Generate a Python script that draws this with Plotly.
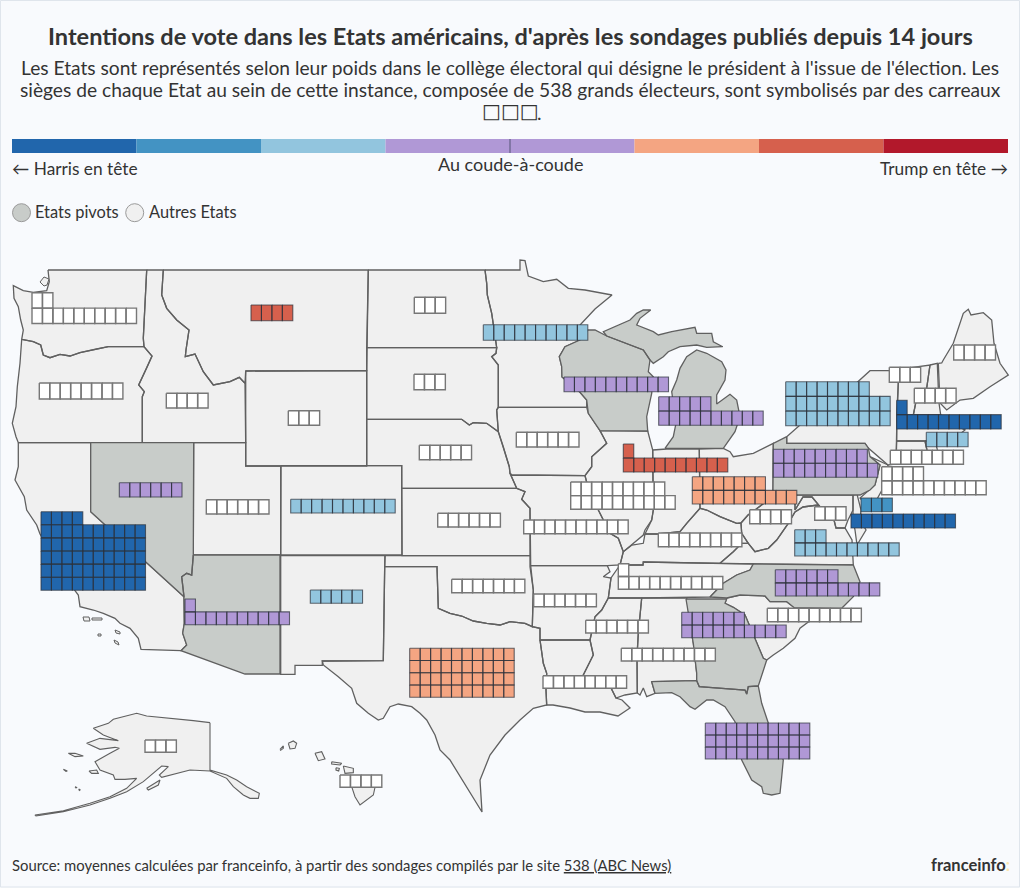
import plotly.graph_objects as go

# ---------- text ----------
TITLE = "Intentions de vote dans les Etats américains, d'après les sondages publiés depuis 14 jours"
SUBTITLE = ["Les Etats sont représentés selon leur poids dans le collège électoral qui désigne le président à l'issue de l'élection. Les",
            "sièges de chaque Etat au sein de cette instance, composée de 538 grands électeurs, sont symbolisés par des carreaux"]
BOXES = "□□□"
LEFT_LABEL = "← Harris en tête"
MID_LABEL = "Au coude-à-coude"
RIGHT_LABEL = "Trump en tête →"
SWATCH_LABELS = ["Etats pivots", "Autres Etats"]
SOURCE = "Source: moyennes calculées par franceinfo, à partir des sondages compilés par le site <u>538 (ABC News)</u>"
BG = "#f8fafd"
FONT = "Lato"
INK = "#333333"

# ---------- colour scale ----------
LEAD_COLORS = ["#2166ac", "#4393c3", "#92c5de", "#b098d6", "#b098d6", "#f4a582", "#d6604d", "#b2182b"]
WHITE, DB, MB, LB, PU, OR, RD = "#ffffff", "#2166ac", "#4393c3", "#92c5de", "#b098d6", "#f4a582", "#d6604d"

# ---------- electoral seats ----------
STATE = ["WA","OR","MT","ID","WY","ND","SD","NE","MN","IA","WI","MI","IN","IL","OH","PA","NY","MA","VT","NH","ME","RI","CT","NJ","DE","MD","DC","WV","VA","KY","TN","MO","AR","MS","AL","LA","GA","NC","SC","FL","TX","OK","KS","CO","NM","AZ","NV","UT","CA","AK","HI"]
SEATS = [12,8,4,4,3,3,3,5,10,6,10,15,11,19,17,19,28,11,3,4,4,4,7,14,3,10,3,4,13,8,11,10,6,6,9,8,16,16,9,30,40,7,6,10,5,11,6,6,54,3,4]
LEAD = [WHITE,WHITE,RD,WHITE,WHITE,WHITE,WHITE,WHITE,LB,WHITE,PU,PU,RD,WHITE,OR,PU,LB,DB,WHITE,WHITE,WHITE,LB,WHITE,WHITE,MB,DB,WHITE,WHITE,LB,WHITE,WHITE,WHITE,WHITE,WHITE,WHITE,WHITE,PU,PU,WHITE,PU,OR,WHITE,WHITE,LB,LB,PU,PU,WHITE,DB,WHITE,WHITE]
TILE_LEFT = [32,39.3,251,166.3,288.3,414.3,414,419.3,483.3,516.3,564,658.7,623.3,570.7,692.3,773.3,785.7,896.7,889.3,914.3,953.7,926.3,890.3,881.7,861,851,814.7,749.7,794.7,658.3,618.3,523.7,533.7,585.7,621.3,543,681.7,775.3,767.3,705.3,409.7,451.7,437.7,290.7,310.3,185,119.3,206.3,41,145,340]
TILE_TOP = [292.7,383,305,393.3,410.7,297.3,374.3,445.3,324.7,432.3,377,396.7,444,482,476.7,449.3,381.7,400.3,367.3,388.3,345,432.3,450.3,466.7,498,514,506.7,509.7,529.7,533,563.7,520,594,620.3,648.3,675.7,612.3,569.7,608.3,723,648.3,579.3,513.3,499.3,590,599,482.7,499.7,511.7,740,775]
TILE_BOTTOM = [323.5,399,320.7,408,425.3,313.3,389.7,459.7,340.3,447,391.7,425.3,472,509.3,504,477.3,425.7,429,382.3,403,360,446.7,464.3,494.7,511.7,528,520.3,523.7,556,546.7,589.3,533.7,606.7,633,661,688.3,637.7,596,621.7,759,697.3,592.7,527,513,603.3,624.7,497,514,590.3,752.3,787.3]
CELL_WIDTH = 10.45

# ---------- map outlines (map coordinates) ----------
WA = [(48,270),(146.7,270),(143.3,338.3),(144,346.7),(108.3,346.7),(96.7,349),(80,352.7),(70,356),(60,354.3),(50,357.7),(43.3,355),(40.7,345),(33.3,341.7),(21.7,339.3),(23.3,330),(20.7,320),(18.3,306.7),(14,298.3),(13.3,285.7),(23.3,290.7),(33.3,292.3),(46.7,290.7),(49.3,281.7)]
OR_ = [(21.7,339.3),(33.3,341.7),(40.7,345),(43.3,355),(50,357.7),(60,354.3),(70,356),(80,352.7),(96.7,349),(108.3,346.7),(144,346.7),(152,356),(146.7,368),(141.7,378.3),(138.7,385),(144.3,391.7),(142.3,396.7),(142.3,442.7),(18.3,442.7),(16,436.7),(12.3,423.3),(16,406.7),(17.3,386.7),(20,363.3)]
ID = [(146.7,270),(163.3,270),(161.7,295),(166.7,308.3),(176.7,320),(189,330),(186,350),(185.3,356.7),(195,354),(203.3,371.7),(213.3,385),(230,381.7),(239.3,377.3),(245,383.3),(245.7,442.7),(142.3,442.7),(142.3,396.7),(144.3,391.7),(138.7,385),(141.7,378.3),(146.7,368),(152,356),(144,346.7),(143.3,338.3)]
MT = [(163.3,270),(368.3,270),(366.7,370.7),(245.7,371),(245,383.3),(239.3,377.3),(230,381.7),(213.3,385),(203.3,371.7),(195,354),(185.3,356.7),(186,350),(189,330),(176.7,320),(166.7,308.3),(161.7,295)]
WY = [(245.7,371),(366.7,370.7),(366.7,466),(245.7,466)]
ND = [(368.3,270),(485,270),(486.7,283.3),(487.3,295),(491.7,313.3),(496.7,347.7),(366.7,347.7)]
SD = [(366.7,347.7),(496.7,347.7),(496,353.3),(491.7,356.7),(498.3,365),(498.3,407.3),(496.7,410),(498.3,431.7),(486.7,423.3),(473.3,422.7),(469.3,425),(461.7,419.3),(366.7,419.3)]
NE = [(366.7,419.3),(461.7,419.3),(469.3,425),(473.3,422.7),(486.7,423.3),(498.3,431.7),(503.3,446.7),(509.3,466.7),(510,473.3),(516.7,488.3),(401.7,488.3),(401.7,465.7),(366.7,465.7)]
CO = [(281,465.7),(401.7,465.7),(402,555),(280.7,555)]
KS = [(401.7,488.3),(516.7,488.3),(525,491.7),(521.7,499.3),(530,508.3),(530,555.7),(402,555.7)]
OK = [(385,555.7),(530,555.7),(530,566.7),(533.3,590),(532.3,626.7),(525,623.3),(510,621.7),(500,625),(486.7,623.3),(473.3,621),(461.7,616),(450,613.3),(438.3,608.3),(437,566.7),(384.7,566.7)]
NM = [(280.7,555.7),(385,555.7),(384.7,566.7),(383.3,660.7),(322.3,661),(322.3,665.3),(295,665.3),(295,674.3),(280.7,674.3)]
AZ = [(193.3,555),(280,555),(280,674),(245,674),(181,650.7),(186.7,645),(182.7,633.3),(184.3,623.3),(184,596.7),(181.7,576.7),(186.7,573.3),(191.7,575)]
NV = [(90.7,442.7),(193.7,442.7),(193.3,555),(191.7,575),(186.7,573.3),(181.7,576.7),(184,596.7),(145.7,561.7),(90.7,511.7)]
CA = [(18.3,442.7),(90.7,442.7),(90.7,511.7),(145.7,561.7),(184,596.7),(184.3,623.3),(182.7,633.3),(186.7,645),(181,650.7),(141,649.3),(138.3,638.3),(130,628.3),(120,623.3),(115,618.3),(103.3,613.3),(93.3,610),(80,606.7),(78.3,595),(75,590.7),(40,534),(36.7,525),(26.7,510),(24.3,496.7),(15,480),(18.3,466.7)]
UT = [(193.7,442.7),(245.7,442.7),(245.7,466),(280.7,466),(280.7,555),(193.3,555)]
MN = [(485,270),(520,270),(520,260),(525,260.7),(528.3,276),(543.3,281.7),(556.7,279.3),(568.3,288.3),(585,290),(612,295),(595,309),(580,325),(580,340),(565,346.7),(559.3,356.7),(561.7,366.7),(562,377),(580,392.3),(586.7,400),(586.7,407.3),(498.3,407.3),(498.3,365),(491.7,356.7),(496,353.3),(496.7,347.7),(491.7,313.3),(487.3,295),(486.7,283.3)]
IA = [(498.3,407.3),(586.7,407.3),(588.3,413.3),(600,430.7),(606.7,443.3),(591.7,456.7),(591.7,466.7),(585,475.7),(511.7,475),(510,473.3),(509.3,466.7),(503.3,446.7),(498.3,431.7),(496.7,410)]
WI = [(580,340),(587.7,330),(595,330),(606.7,336),(643.3,350),(650,360),(648.3,371.7),(653.3,376.7),(651.7,393.3),(646.7,416.7),(647.7,431),(600,430.7),(588.3,413.3),(586.7,400),(580,392.3),(562,377),(561.7,366.7),(559.3,356.7),(565,346.7)]
MI_UP = [(606.7,336),(603.3,331.7),(630,320),(636.7,313.3),(643.3,310),(650.7,310),(640,318.3),(636.7,325),(653.3,331.7),(658.3,335),(671.7,331.7),(695,327.3),(696.7,333.3),(711.7,333.3),(713.3,341.7),(722.7,346.7),(706.7,347.3),(696.7,345),(680,346.7),(668.3,351.7),(663.3,356.7),(653.3,363.3),(650,360),(643.3,350)]
MI_LP = [(665,448.3),(673.3,436.7),(676,423.3),(671.7,391.7),(676.7,380),(680,368.3),(686.7,356.7),(696.7,350),(706.7,353.3),(721.7,361.7),(726,370),(725,380),(716.7,395),(716.7,404),(730,394.3),(736.7,400),(740,416.7),(735,431.7),(723.3,448.3)]
IL = [(600,430.7),(647.7,431),(652.7,450),(653.3,510),(651.7,520),(645,530),(643.3,535),(632,545),(623.3,551.7),(618.3,538.3),(610,533.3),(598.3,510),(590,495),(585,475.7),(591.7,466.7),(591.7,456.7),(606.7,443.3)]
IN = [(652.7,450),(666.7,449),(699.3,449),(699.3,500),(700,508.3),(686.7,523.3),(680,531.7),(658.3,534),(645,534),(651.7,520),(653.3,510)]
OH = [(699.3,449),(723.3,448.3),(730,451.7),(733.3,456.7),(753.3,453.3),(773.3,443.3),(773,490),(768,500),(755,510),(748,515),(741,523),(736.7,523.3),(720,516.7),(706.7,510),(700,508.3)]
KY = [(623.3,551.7),(632,545),(643.3,543.3),(645,534),(658.3,534),(680,531.7),(686.7,523.3),(700,508.3),(706.7,510),(720,516.7),(736.7,523.3),(741,523),(741.7,533.3),(748.3,543.3),(741.7,543.3),(733.3,551.7),(720,563.3),(643.3,562),(643,565),(620,565)]
TN = [(620,565),(643,565),(643.3,562),(720,563.3),(753.3,564),(750,570),(736.7,575),(723.3,583.3),(710,597),(641.7,598),(608.3,598),(611,578)]
MO = [(511.7,475),(585,475.7),(590,495),(598.3,510),(610,533.3),(618.3,538.3),(623.3,551.7),(620,565),(607.3,565.7),(530.7,565.7),(530,508.3),(521.7,499.3),(525,491.7),(516.7,488.3),(510,473.3)]
AR = [(530.7,565.7),(607.3,565.7),(610,571.7),(603.3,576.7),(611,578),(608.3,598),(601.7,610),(595,616.7),(590,640),(540,640),(540,628.3),(532.3,626.7),(533.3,590)]
LA = [(540,640),(590,640),(593.3,655),(583.3,675),(583,688),(611,688),(616,698),(622,700),(630,708),(618,716),(600,712),(585,712),(570,708),(553,705),(546.7,705),(546,690),(546.7,673.3),(543.3,663.3)]
MS = [(608.3,598),(641.7,598),(638.3,633.3),(637,656.7),(637.3,693),(625,695),(616,698),(611,688),(583,688),(583.3,675),(593.3,655),(590,640),(595,616.7),(601.7,610)]
AL = [(641.7,598),(686.7,598),(693.3,643.3),(696.7,673.3),(696.7,680.7),(651.7,681.7),(655,693.3),(646.7,696.7),(643.3,688),(640,695),(637.3,693),(637,656.7),(638.3,633.3)]
TX = [(384.7,566.7),(437,566.7),(438.3,608.3),(450,613.3),(461.7,616),(473.3,621),(486.7,623.3),(500,625),(510,621.7),(525,623.3),(532.3,626.7),(540,628.3),(540,640),(543.3,663.3),(546.7,673.3),(546,690),(546.7,705),(533.3,708.3),(520,720),(505,735),(490,755),(480,780),(482,812),(465,785),(450,760),(440,750),(435,735),(426.7,720),(420,713.3),(411.7,706.7),(398.3,704),(390,706.7),(383.3,718.3),(378.3,720),(368.3,713.3),(356.7,703.3),(351.7,688.3),(338.3,676.7),(323.3,665),(322.3,661),(383.3,660.7)]
FL = [(651.7,681.7),(696.7,680.7),(699.3,686.7),(745,690),(746.7,694),(748.3,686.7),(758.3,686),(761.7,703.3),(768.3,723),(783.3,760),(781.7,776.7),(780,793.3),(771.7,795),(763.3,793.3),(761.7,786.7),(751.7,780),(741.7,760),(735,721.7),(725,706.7),(713.3,700),(706.7,700),(695,709.3),(690,706.7),(680,696.7),(671.7,692.7),(655,693.3)]
GA = [(686,599),(726.7,599),(725,603.3),(733.3,607.3),(745,615),(755,638.3),(763.3,658.3),(766.7,660),(763.3,670),(758.3,686),(748.3,686.7),(746.7,694),(745,690),(699.3,686.7),(696.7,680.7),(696.7,673.3),(693.3,643.3)]
SC = [(726.7,598),(740,595),(765,596),(770,601.7),(786.7,601.7),(794.3,607.7),(826.7,608.3),(808.3,621.7),(800,628.3),(795,638.3),(783.3,648.3),(773.3,655),(766.7,660),(763.3,658.3),(755,638.3),(745,615),(733.3,607.3),(725,603.3)]
NC = [(753.3,564),(853.3,565),(860,581.7),(853.3,596.7),(841.7,608.3),(826.7,608.3),(794.3,607.7),(786.7,601.7),(770,601.7),(765,596),(740,595),(726.7,598),(710,597),(723.3,583.3),(736.7,575),(750,570)]
VA = [(720,563.3),(733.3,551.7),(741.7,543.3),(748.3,543.3),(755,551.7),(768.3,548.3),(776.7,540),(788.3,523.3),(795,512),(803,507),(818,505),(820,506.7),(833,516),(836,528),(845,528),(852,540),(853.3,565),(753.3,564)]
WV = [(741,523),(748,515),(755,510),(768,500),(773,490),(774,495),(795,495),(795,510),(803,497),(812,497),(820,506.7),(818,505),(803,507),(795,512),(788.3,523.3),(776.7,540),(768.3,548.3),(755,551.7),(748.3,543.3),(741.7,533.3)]
MD = [(795,495),(853,495),(853,510),(848,520),(845,528),(836,528),(833,516),(820,506.7),(812,497),(803,497),(795,510)]
DE = [(853,495),(857,494),(861,510),(860,520),(853,520),(853,510)]
DELMARVA = [(853,520),(860,520),(866,530),(857,545),(855,530)]
PA = [(786.7,436.7),(786.7,443.3),(865,443.3),(868.3,448),(870,456.7),(880,465),(875,485),(870,490),(860,495),(774,495),(773,490),(773.3,443.3)]
NY = [(786.7,443.3),(865,443.3),(868.3,448),(888,465),(896,464),(896,450),(896.7,429),(898.3,383),(889.3,370.7),(870,370.7),(858.3,381),(840,398),(800,425),(786.7,436.7)]
VT = [(889.3,370.7),(930,365),(926.7,388),(915.7,403),(913.3,415),(896.7,415),(898.3,383)]
NH = [(930,365),(937.3,363.3),(938.3,388),(939,403),(940.7,415),(913.3,415),(915.7,403),(926.7,388)]
ME = [(938.3,363.3),(941.7,363),(943.3,360),(953.3,343.3),(963.3,313.3),(968.3,309.3),(971,315),(983.3,312.7),(991.7,320),(994,343.3),(1000,363.3),(1008.3,375),(990,386.7),(973.3,398.3),(960,400),(946.7,410),(940,403)]
MA = [(896.7,415),(940.7,415),(955,425),(965,430),(950,442),(925,441),(896.7,441)]
RI = [(925,441),(935,441),(938,452),(928,455)]
CT = [(896.7,441),(925,441),(928,455),(896,464)]
NJ = [(870,456.7),(888,465),(882,490),(871,510),(860,498),(875,485),(880,465)]
OUTLINES_OTHER = [WA,OR_,ID,MT,WY,ND,SD,NE,CO,KS,OK,NM,CA,UT,MN,IA,IL,IN,OH,KY,TN,MO,AR,LA,MS,AL,TX,SC,VA,WV,MD,DE,DELMARVA,NY,VT,NH,ME,MA,RI,CT,NJ]
OUTLINES_SWING = [AZ,NV,WI,MI_UP,MI_LP,FL,GA,NC,PA]

# Alaska and Hawaii, read in their own inset
INSET_ORIGIN = (30, 690)
AK_MAIN = [(540,98),(540,240),(590,255),(620,270),(650,290),(688,310),(685,325),(660,325),(640,315),(610,290),(590,265),(540,243),(480,240),(440,250),(395,262),(388,255),(415,230),(395,228),(370,250),(340,275),(290,305),(240,325),(180,345),(140,355),(100,365),(18,378),(15,375),(100,362),(180,340),(240,320),(290,295),(320,265),(285,268),(255,268),(250,255),(210,240),(195,215),(240,190),(268,175),(255,172),(210,178),(170,160),(210,145),(265,152),(220,135),(190,115),(235,100),(250,88),(320,70),(350,78),(430,85),(490,92)]
AK_ISLES = [[(115,190),(135,190),(160,198),(135,200)],[(100,238),(112,243),(108,244)],[(177,243),(200,240),(205,250),(185,250)],[(135,290),(140,292),(138,294)],[(146,297),(151,299),(148,301)],[(350,295),(390,270),(385,285),(355,300)]]
HI_ISLES = [[(775,160),(790,153),(800,160),(795,175),(780,177)],[(750,178),(760,168),(760,175),(752,181)],[(855,190),(875,185),(885,207),(865,212)],[(905,215),(935,220),(930,225),(905,222)],[(918,233),(928,235),(926,243),(918,240)],[(940,228),(970,235),(970,248),(945,250)],[(965,290),(1035,292),(1030,315),(990,345),(975,320)]]
CA_ISLES = [[(83,617),(89,617),(90,621),(84,621)],[(92,618),(102,618),(102,620),(92,620)],[(98,634),(101,634),(101,636),(98,636)],[(115,630),(120,632),(120,634),(116,633)],[(114,640),(118,642),(119,645),(115,643)]]
PUGET = [(40,282),(44,277),(49,279),(47,285),(44,286)]

SWING_FILL, OTHER_FILL = "#c8ccc9", "#f0f0f0"
BORDER = "#606060"

def inset(points):
    return [(INSET_ORIGIN[0] + p[0] / 3, INSET_ORIGIN[1] + p[1] / 3) for p in points]

def rings(polys):
    xs, ys = [], []
    for poly in polys:
        xs += [p[0] for p in poly] + [poly[0][0], None]
        ys += [p[1] for p in poly] + [poly[0][1], None]
    return xs, ys

fig = go.Figure()

def map_layer(polys, fill, width=1.3):
    xs, ys = rings(polys)
    fig.add_trace(go.Scatter(x=xs, y=ys, mode="lines", fill="toself", fillcolor=fill,
                             line=dict(color=BORDER, width=width), hoverinfo="skip", showlegend=False))

map_layer(OUTLINES_OTHER, OTHER_FILL)
map_layer(OUTLINES_SWING, SWING_FILL)
map_layer(CA_ISLES + [PUGET], OTHER_FILL, 1)
map_layer([inset(AK_MAIN)] + [inset(p) for p in AK_ISLES + HI_ISLES], OTHER_FILL, 1.1)

# seat tiles: ten to a row, the incomplete row on top
for color in [WHITE, DB, MB, LB, PU, OR, RD]:
    cells = []
    for i, seats in enumerate(SEATS):
        if LEAD[i] != color:
            continue
        full, rest = seats // 10, seats % 10
        if seats <= 10:
            rows = [seats]
        else:
            rows = ([rest] if rest else []) + [10] * full
        h = (TILE_BOTTOM[i] - TILE_TOP[i]) / len(rows)
        for r, n in enumerate(rows):
            for c in range(n):
                x0 = TILE_LEFT[i] + c * CELL_WIDTH
                y0 = TILE_TOP[i] + r * h
                cells.append([(x0, y0), (x0 + CELL_WIDTH, y0), (x0 + CELL_WIDTH, y0 + h), (x0, y0 + h)])
    xs, ys = rings(cells)
    line = dict(color="#777777", width=1.4) if color == WHITE else dict(color="rgba(45,50,60,0.72)", width=1.1)
    fig.add_trace(go.Scatter(x=xs, y=ys, mode="lines", fill="toself", fillcolor=color, line=line,
                             hoverinfo="skip", showlegend=False))

# colour scale
BAR_LEFT, BAR_RIGHT, BAR_TOP, BAR_H = 12, 1008, 139, 14
w = (BAR_RIGHT - BAR_LEFT) / len(LEAD_COLORS)
fig.add_trace(go.Bar(x=[BAR_LEFT + w * (i + .5) for i in range(len(LEAD_COLORS))], y=[BAR_H] * len(LEAD_COLORS),
                     base=BAR_TOP, width=w, marker=dict(color=LEAD_COLORS, line_width=0),
                     hoverinfo="skip", showlegend=False))
fig.add_trace(go.Scatter(x=[510, 510], y=[BAR_TOP, BAR_TOP + BAR_H], mode="lines",
                         line=dict(color="#555577", width=1), hoverinfo="skip", showlegend=False))

# swatches
fig.add_trace(go.Scatter(x=[21.5, 134.7], y=[212.7, 212.7], mode="markers",
                         marker=dict(size=18, color=[SWING_FILL, OTHER_FILL], line=dict(color="#9a9a9a", width=1)),
                         hoverinfo="skip", showlegend=False))

def label(text, x, y, size, anchor="center", bold=False, color=INK, family=FONT):
    if bold:
        text = f"<b>{text}</b>"
    fig.add_annotation(x=x, y=y, xref="x", yref="y", text=text, showarrow=False, xanchor=anchor, yanchor="middle",
                       font=dict(family=family, size=size, color=color), align=anchor)

label(TITLE, 510, 36, 23.55, bold=True)
for line_text, yy in zip(SUBTITLE, [67.5, 89.5]):
    label(line_text, 510, yy, 19.2)
label(BOXES, 510.5, 110.5, 20, family="DejaVu Sans")
label(".", 534.5, 112, 19.2, "left")
label(LEFT_LABEL, 10, 168.8, 17.3, "left")
label(MID_LABEL, 510, 163.5, 18)
label(RIGHT_LABEL, 1010, 168.8, 17.3, "right")
label(SWATCH_LABELS[0], 32.5, 211, 16.4, "left")
label(SWATCH_LABELS[1], 146.5, 211, 16.4, "left")
label(SOURCE, 10, 864.5, 14.85, "left")
label('franceinfo<span style="color:#fbe7b0">:</span>', 1012, 864.5, 16.5, "right", bold=True)

fig.update_layout(
    width=1020, height=888, margin=dict(l=0, r=0, t=0, b=0), autosize=False,
    paper_bgcolor=BG, plot_bgcolor=BG, barmode="overlay", showlegend=False,
    xaxis=dict(range=[0, 1020], visible=False, fixedrange=True),
    yaxis=dict(range=[888, 0], visible=False, fixedrange=True),
    shapes=[dict(type="rect", xref="x", yref="y", x0=0.5, y0=0.5, x1=1019.5, y1=887, line=dict(color="#dfe5ec", width=1), layer="below")],
)
fig.write_html("out.html", config=dict(displayModeBar=False),
               post_script="document.body.style.margin='0';document.body.style.overflow='hidden';")
